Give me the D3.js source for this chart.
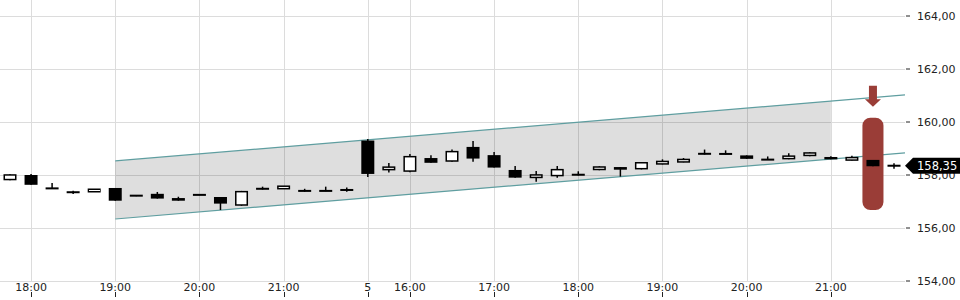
<!DOCTYPE html>
<html><head><meta charset="utf-8">
<script src="https://cdn.jsdelivr.net/npm/d3@7"></script>
<style>html,body{margin:0;padding:0;background:#fff;}svg{display:block;font-family:"DejaVu Sans",sans-serif;}</style>
</head><body>
<svg id="chart" width="960" height="300"></svg>
<script>
// ---- data ----
const times = ["17:45","18:00","18:15","18:30","18:45","19:00","19:15","19:30","19:45","20:00","20:15","20:30","20:45","21:00","21:15","21:30","21:45",
  "15:30","15:45","16:00","16:15","16:30","16:45","17:00","17:15","17:30","17:45","18:00","18:15","18:30","18:45","19:00","19:15","19:30","19:45","20:00","20:15","20:30","20:45","21:00","21:15","21:30","21:45"];
const open  = [157.80,158.00,157.50,157.36,157.37,157.51,157.24,157.29,157.13,157.26,157.17,156.84,157.51,157.48,157.43,157.41,157.47,
  159.30,158.20,158.12,158.64,158.50,159.06,158.75,158.19,157.91,157.95,158.04,158.18,158.30,158.21,158.40,158.48,158.83,158.82,158.74,158.59,158.59,158.71,158.68,158.55,158.57,158.35];
const high  = [158.03,158.04,157.70,157.41,157.46,157.51,157.24,157.36,157.18,157.26,157.17,157.40,157.56,157.58,157.48,157.56,157.53,
  159.36,158.45,158.79,158.75,158.96,159.28,158.87,158.34,158.15,158.34,158.14,158.33,158.30,158.49,158.59,158.64,158.96,158.93,158.74,158.70,158.82,158.86,158.71,158.73,158.57,158.44];
const low   = [157.80,157.63,157.49,157.28,157.37,157.03,157.20,157.11,157.03,157.24,156.68,156.84,157.45,157.48,157.37,157.39,157.37,
  157.92,158.09,158.10,158.46,158.50,158.50,158.28,157.90,157.75,157.90,157.98,158.18,157.94,158.21,158.40,158.48,158.77,158.77,158.61,158.57,158.59,158.71,158.59,158.55,158.33,158.24];
const close = [158.03,157.63,157.49,157.34,157.46,157.03,157.20,157.11,157.03,157.24,156.92,157.40,157.45,157.58,157.37,157.39,157.40,
  158.04,158.30,158.72,158.46,158.91,158.62,158.28,157.90,158.00,158.23,157.98,158.33,158.20,158.49,158.53,158.60,158.77,158.77,158.61,158.57,158.74,158.86,158.59,158.67,158.33,158.35];
const xTickIndex  = [1,5,9,13,17,19,23,27,31,35,39];
const xTickLabels = ["18:00","19:00","20:00","21:00","5","16:00","17:00","18:00","19:00","20:00","21:00"];
const yTicks = [154,156,158,160,162,164];
const channelIndex = [5,39];
const channelUpper = [158.53,160.79];
const channelLower = [156.34,158.60];
const signalIndex = 41;
const signalRange = [156.68,160.16];
const arrowRange = [161.37,160.58];
const lastPrice = 158.35;

// ---- scales ----
const svg = d3.select("#chart");
const plotRight = 905, plotBottom = 281;
const x = d3.scaleLinear().domain([0, 42]).range([10, 894]);
const y = d3.scaleLinear().domain([154, 164]).range([281, 16]);
const fmt = v => d3.format(".2f")(v).replace(".", ",");
const step = x(1) - x(0);

// ---- grid ----
const grid = svg.append("g");
grid.selectAll("line.h").data(yTicks).enter().append("line")
  .attr("x1", 0).attr("x2", plotRight).attr("y1", d => y(d)).attr("y2", d => y(d))
  .attr("stroke", "#dcdcdc").attr("stroke-width", 1).attr("shape-rendering", "crispEdges");
grid.selectAll("line.v").data(xTickIndex).enter().append("line")
  .attr("x1", d => Math.round(x(d)) + 0.5).attr("x2", d => Math.round(x(d)) + 0.5)
  .attr("y1", 0).attr("y2", plotBottom)
  .attr("stroke", "#dcdcdc").attr("stroke-width", 1);

// ---- channel ----
const slopeU = (channelUpper[1] - channelUpper[0]) / (channelIndex[1] - channelIndex[0]);
const slopeL = (channelLower[1] - channelLower[0]) / (channelIndex[1] - channelIndex[0]);
const iEnd = x.invert(plotRight);
const uAt = i => channelUpper[0] + slopeU * (i - channelIndex[0]);
const lAt = i => channelLower[0] + slopeL * (i - channelIndex[0]);
const area = d3.area().x(d => x(d)).y0(d => y(lAt(d))).y1(d => y(uAt(d)));
svg.append("path").datum(channelIndex).attr("d", area).attr("fill", "rgba(0,0,0,0.13)");
const lineGen = f => d3.line().x(d => x(d)).y(d => y(f(d)));
[uAt, lAt].forEach(f => {
  svg.append("path").datum([channelIndex[0], iEnd]).attr("d", lineGen(f))
    .attr("fill", "none").attr("stroke", "#5f9ea0").attr("stroke-width", 1.2);
});

// ---- signal pill ----
svg.append("rect")
  .attr("x", x(signalIndex) - step / 2).attr("width", step)
  .attr("y", y(signalRange[1])).attr("height", y(signalRange[0]) - y(signalRange[1]))
  .attr("rx", 8).attr("ry", 8).attr("fill", "#9a3d37");
const ax = x(signalIndex), aTop = y(arrowRange[0]), aTip = y(arrowRange[1]);
svg.append("path")
  .attr("d", `M${ax-4},${aTop} L${ax+4},${aTop} L${ax+4},${aTip-7.5} L${ax+8},${aTip-7.5} L${ax},${aTip} L${ax-8},${aTip-7.5} L${ax-4},${aTip-7.5} Z`)
  .attr("fill", "#9a3d37");

// ---- candles ----
const bodyW = 13;
const candles = svg.append("g").selectAll("g").data(d3.range(open.length)).enter().append("g");
candles.append("line")
  .attr("x1", i => x(i)).attr("x2", i => x(i))
  .attr("y1", i => y(high[i])).attr("y2", i => y(low[i]))
  .attr("stroke", "#000").attr("stroke-width", 1.5);
candles.each(function(i) {
  const g = d3.select(this);
  const top = y(Math.max(open[i], close[i])), bot = y(Math.min(open[i], close[i]));
  const h = bot - top;
  const up = close[i] > open[i];
  if (up) {
    const hh = Math.max(h, 4), mid = (top + bot) / 2;
    g.append("rect").attr("x", x(i) - bodyW / 2 + 0.75).attr("width", bodyW - 1.5)
      .attr("y", mid - hh / 2 + 0.75).attr("height", hh - 1.5)
      .attr("fill", "#fff").attr("stroke", "#000").attr("stroke-width", 1.5);
  } else {
    const hh = Math.max(h, 2), mid = (top + bot) / 2;
    g.append("rect").attr("x", x(i) - bodyW / 2).attr("width", bodyW)
      .attr("y", mid - hh / 2).attr("height", hh).attr("fill", "#000");
  }
});

// ---- axes ----
const yAxis = svg.append("g");
yAxis.selectAll("line").data(yTicks).enter().append("line")
  .attr("x1", 906).attr("x2", 910).attr("y1", d => y(d)).attr("y2", d => y(d))
  .attr("stroke", "#222").attr("stroke-width", 1);
yAxis.selectAll("text").data(yTicks).enter().append("text")
  .attr("x", 917).attr("y", d => y(d)).attr("dy", "0.35em")
  .attr("font-size", 11).attr("fill", "#222").text(d => fmt(d));

const xAxis = svg.append("g");
xAxis.selectAll("line").data(xTickIndex).enter().append("line")
  .attr("x1", d => Math.round(x(d)) + 0.5).attr("x2", d => Math.round(x(d)) + 0.5)
  .attr("y1", 292).attr("y2", 297).attr("stroke", "#222").attr("stroke-width", 1);
xAxis.selectAll("text").data(xTickLabels).enter().append("text")
  .attr("x", (d, k) => x(xTickIndex[k])).attr("y", 291)
  .attr("text-anchor", "middle").attr("font-size", 11).attr("fill", "#222").text(d => d);

// ---- last price tag ----
const ly = y(lastPrice);
svg.append("path")
  .attr("d", `M905,${ly} L913,${ly-8} L960,${ly-8} L960,${ly+8} L913,${ly+8} Z`)
  .attr("fill", "#000");
svg.append("text").attr("x", 917).attr("y", ly).attr("dy", "0.37em")
  .attr("font-size", 11.5).attr("fill", "#fff").text(fmt(lastPrice));
</script>
</body></html>
